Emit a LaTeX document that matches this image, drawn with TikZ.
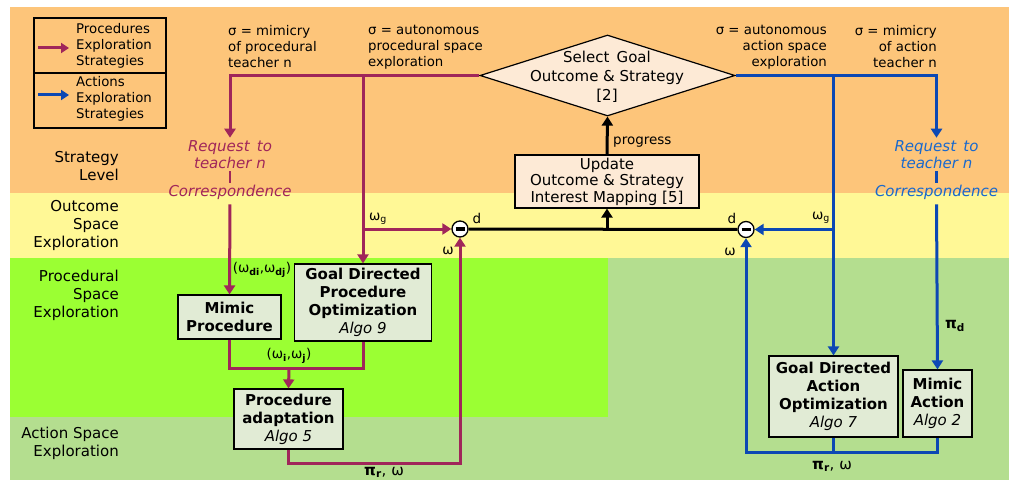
\documentclass[tikz,border=0pt]{standalone}
\usepackage{fontspec}
\setmainfont{DejaVu Sans}
\usetikzlibrary{arrows.meta,shapes.geometric}
\definecolor{bgorange}{RGB}{253,197,122}
\definecolor{bgyellow}{RGB}{255,248,150}
\definecolor{bggreen}{RGB}{155,255,51}
\definecolor{bglight}{RGB}{180,222,143}
\definecolor{peach}{RGB}{253,234,214}
\definecolor{boxfill}{RGB}{225,235,213}
\definecolor{purp}{RGB}{160,38,90}
\definecolor{blu}{RGB}{12,72,180}
\definecolor{blutext}{RGB}{25,105,205}
\newcommand{\fbig}{\fontsize{15}{18}\selectfont}
\newcommand{\fmid}{\fontsize{13.3}{16}\selectfont}
\newcommand{\fsmall}{\fontsize{13.5}{15}\selectfont}
\newcommand{\sbb}[1]{\textsubscript{\bfseries #1}}
\tikzset{
  tip/.style={-{Triangle[length=9pt,width=11pt]}},
  pline/.style={draw=purp,line width=3pt},
  bline/.style={draw=blu,line width=3pt},
  kline/.style={draw=black,line width=3pt},
  tick/.style={line width=2.4pt},
  procbox/.style={draw,line width=1.2pt,fill=boxfill,inner sep=0pt,align=center,font=\fbig\bfseries},
  legcell/.style={draw,line width=1.2pt,minimum width=132pt,minimum height=55pt,inner sep=0pt},
  rowlab/.style={anchor=east,align=right,font=\fbig,inner sep=0pt},
  sigmalab/.style={font=\fmid,inner sep=0pt},
  reqlab/.style={align=center,font=\fontsize{15}{17}\selectfont\itshape,inner sep=2pt},
  smalllab/.style={font=\fsmall,inner sep=0pt},
  pilab/.style={font=\fontsize{15}{17}\selectfont,inner sep=0pt},
  minuscirc/.style={circle,draw,line width=1.3pt,fill=white,minimum size=16pt,inner sep=0pt},
}
\begin{document}
\begin{tikzpicture}[x=1pt,y=-1pt]
\useasboundingbox (0,0) rectangle (1009,481);
% background bands
\fill[bgorange] (10,7) rectangle (1009,193);
\fill[bgyellow] (10,193) rectangle (1009,258);
\fill[bglight] (10,258) rectangle (1009,480);
\fill[bggreen] (10,258) rectangle (608,417);

% legend
\node[legcell] (leg1) at (100,45.5) {};
\node[legcell] (leg2) at (100,100.5) {};
\coordinate (la1) at (38,48);
\coordinate (lb1) at (69,48);
\coordinate (la2) at (38,95);
\coordinate (lb2) at (69,95);
\draw[pline,-{Triangle[length=8pt,width=10pt]}] (la1) -- (lb1);
\draw[bline,-{Triangle[length=8pt,width=10pt]}] (la2) -- (lb2);
\node[sigmalab,anchor=west,align=left] (lt1) at (76,46) {Procedures\\Exploration\\Strategies};
\node[sigmalab,anchor=west,align=left] (lt2) at (76,99) {Actions\\Exploration\\Strategies};

% row labels
\node[rowlab] (r1) at (119,166) {Strategy\\Level};
\node[rowlab] (r2) at (119,225) {Outcome\\Space\\Exploration};
\node[rowlab] (r3) at (119,295) {Procedural\\Space\\Exploration};
\node[rowlab] (r4) at (119,443) {Action Space\\Exploration};

% sigma labels
\node[sigmalab,anchor=west,align=left] (s1) at (228,47) {σ = mimicry\\of procedural\\teacher n};
\node[sigmalab,anchor=west,align=left] (s2) at (368,47) {σ = autonomous\\procedural space\\exploration};
\node[sigmalab,anchor=east,align=right] (s3) at (827,47) {σ = autonomous\\action space\\exploration};
\node[sigmalab,anchor=east,align=right] (s4) at (937,47) {σ = mimicry\\of action\\teacher n};

% diamond and update
\node[diamond,draw,line width=1.2pt,fill=peach,minimum width=255pt,minimum height=81pt,inner sep=0pt] (sel) at (607.5,75.5) {};
\node[align=center,font=\fontsize{15}{19}\selectfont,inner sep=0pt] (selt) at (607,77) {Select\, Goal\\Outcome \& Strategy\\{}[2]};
\node[draw,line width=1.2pt,fill=peach,minimum width=184pt,minimum height=53pt,inner sep=0pt,align=center,font=\fontsize{15}{16.5}\selectfont] (upd) at (607,181.5) {Update\\Outcome \& Strategy\\Interest Mapping [5]};
\node[smalllab,anchor=west] (prog) at (613,142) {progress};

% request nodes
\node[reqlab,text=purp] (reqp) at (230,155) {Request\, to\\teacher n};
\node[reqlab,text=purp] (corp) at (230,192) {Correspondence};
\node[reqlab,text=blutext] (reqa) at (936.5,155) {Request\, to\\teacher n};
\node[reqlab,text=blutext] (cora) at (936.5,192) {Correspondence};

% comparison circles
\node[minuscirc] (cl) at (460,229) {\rule[-1.5pt]{9pt}{3.5pt}};
\node[minuscirc] (cr) at (746,229.5) {\rule[-1.5pt]{9pt}{3.5pt}};
\node[smalllab] (dl) at (477,218) {d};
\node[smalllab] (wl) at (448,251) {ω};
\node[smalllab] (dr) at (732,218) {d};
\node[smalllab] (wr) at (730,252) {ω};
\node[smalllab] (wgl) at (378,219) {ω\textsubscript{g}};
\node[smalllab] (wgr) at (821,218) {ω\textsubscript{g}};

% process boxes
\node[procbox,minimum width=103pt,minimum height=44pt] (mimp) at (229.5,317) {Mimic\\Procedure};
\node[procbox,minimum width=137pt,minimum height=77pt] (gdpo) at (363,302.5) {Goal Directed\\Procedure\\Optimization\\{\mdseries\itshape Algo 9}};
\node[procbox,minimum width=109pt,minimum height=60pt] (padp) at (288.5,419) {Procedure\\adaptation\\{\mdseries\itshape Algo 5}};
\node[procbox,minimum width=129pt,minimum height=81pt] (gdao) at (833.5,396.5) {Goal Directed\\Action\\Optimization\\{\mdseries\itshape Algo 7}};
\node[procbox,minimum width=69pt,minimum height=67pt] (mima) at (937.5,403.5) {Mimic\\Action\\{\mdseries\itshape Algo 2}};

% small labels
\node[smalllab] (wd) at (262,270) {(ω\sbb{di},ω\sbb{dj})};
\node[smalllab] (wij) at (289,356) {(ω\sbb{i},ω\sbb{j})};
\node[pilab] (pr1) at (384,472) {{\bfseries π}\sbb{r}, ω};
\node[pilab] (pd) at (955,326) {{\bfseries π}\sbb{d}};
\node[pilab] (pr2) at (832,466) {{\bfseries π}\sbb{r}, ω};

% helper coordinates
\coordinate (pm) at (289,368);
\coordinate (pb) at (460,463);
\coordinate (bj) at (746,452);

% purple connectors
\draw[pline,tip,shorten >=1pt] (sel.west) -| (reqp.north);
\draw[pline,tip] (sel.west -| gdpo.north) -- (gdpo.north);
\draw[pline,tip] (gdpo.north |- cl.west) -- (cl.west);
\draw[purp,tick] (reqp.south) -- (corp.north);
\draw[pline,tip,shorten <=3pt] (corp.south) -- (mimp.north);
\draw[pline] (mimp.south) |- (pm) -| (gdpo.south);
\draw[pline,tip] (pm) -- (padp.north);
\draw[pline,tip] (padp.south) |- (pb) -- (cl.south);

% blue connectors
\draw[bline,tip,shorten >=1pt] (sel.east) -| (reqa.north);
\draw[bline,tip] (sel.east -| gdao.north) -- (gdao.north);
\draw[bline,tip] (gdao.north |- cr.east) -- (cr.east);
\draw[blu,tick] (reqa.south) -- (cora.north);
\draw[bline,tip,shorten <=3pt] (cora.south) -- (mima.north);
\draw[bline] (gdao.south) -- (gdao.south |- bj);
\draw[bline,tip] (mima.south) |- (bj) -- (cr.south);

% black connectors
\draw[kline] (cl.east) -- (cr.west);
\draw[kline,tip] (upd.south |- cl.east) -- (upd.south);
\draw[kline,tip] (upd.north) -- (sel.south);
\end{tikzpicture}
\end{document}
